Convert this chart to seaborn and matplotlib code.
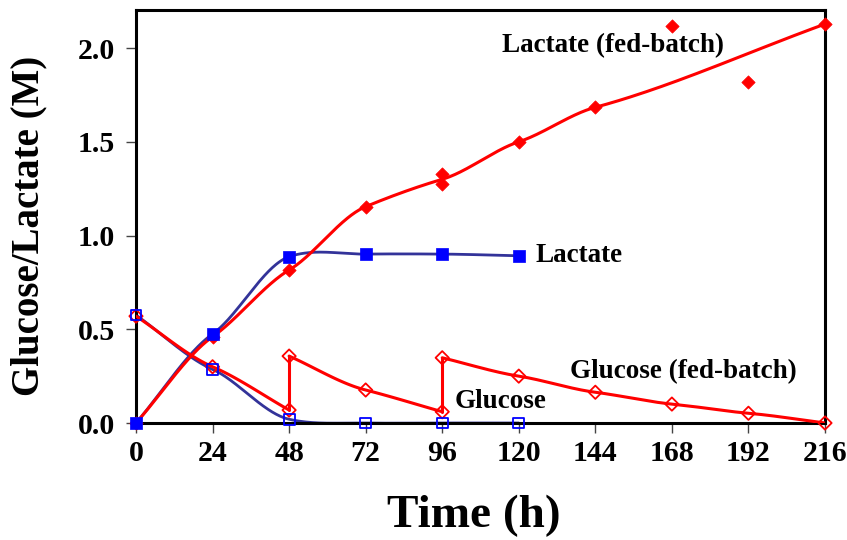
import numpy as np
import pandas as pd
import matplotlib
matplotlib.use("Agg")
import matplotlib.pyplot as plt
import seaborn as sns

# ---- data -------------------------------------------------------------
# batch culture
hours = [0, 24, 48, 72, 96, 120]
lactate_batch = [0.0, 0.475, 0.887, 0.901, 0.901, 0.892]
glucose_batch = [0.576, 0.286, 0.02, 0.0, 0.0, 0.0]

# fed-batch culture (duplicate sample at 96 h)
fed_hours = [0, 24, 48, 72, 96, 96, 120, 144, 168, 192, 216]
lactate_fed = [0.0, 0.46, 0.816, 1.154, 1.326, 1.275, 1.50, 1.684, 2.117, 1.82, 2.128]

# trend through the fed-batch lactate (96 h duplicates averaged, 168/192 h left off)
lactate_fed_trend_hours = [0, 24, 48, 72, 96, 120, 144, 216]
lactate_fed_trend = [0.0, 0.46, 0.816, 1.154, 1.30, 1.50, 1.684, 2.128]

# fed-batch glucose; a repeated hour marks a feed (before / after)
glucose_fed_hours = [0, 24, 48, 48, 72, 96, 96, 120, 144, 168, 192, 216]
glucose_fed = [0.57, 0.30, 0.069, 0.357, 0.176, 0.06, 0.348, 0.25, 0.164, 0.101, 0.052, 0.0]

x_ticks = [0, 24, 48, 72, 96, 120, 144, 168, 192, 216]
y_ticks = [0.0, 0.5, 1.0, 1.5, 2.0]


def smooth(xs, ys, tension=0.7, n=60):
    """Cardinal-spline (Hermite) curve through the points."""
    x = np.asarray(xs, float)
    y = np.asarray(ys, float)
    if len(x) < 3:
        return np.column_stack([x, y])
    h = np.diff(x)
    d = np.diff(y) / h
    m = np.empty_like(y)
    m[0], m[-1] = d[0], d[-1]
    m[1:-1] = tension * (y[2:] - y[:-2]) / (x[2:] - x[:-2])
    t = np.linspace(0, 1, n)
    h00 = 2 * t**3 - 3 * t**2 + 1
    h10 = t**3 - 2 * t**2 + t
    h01 = -2 * t**3 + 3 * t**2
    h11 = t**3 - t**2
    out = []
    for k in range(len(x) - 1):
        xx = x[k] + t * h[k]
        yy = h00 * y[k] + h10 * h[k] * m[k] + h01 * y[k + 1] + h11 * h[k] * m[k + 1]
        seg = np.column_stack([xx, yy])
        out.append(seg if k == 0 else seg[1:])
    return np.vstack(out)


def split_feeds(xs, ys):
    """Split a series at repeated hours into smooth runs plus vertical feed jumps."""
    runs, jumps = [], []
    cur_x, cur_y = [xs[0]], [ys[0]]
    for x, y in zip(xs[1:], ys[1:]):
        if x == cur_x[-1]:
            runs.append((cur_x, cur_y))
            jumps.append(([x, x], [cur_y[-1], y]))
            cur_x, cur_y = [x], [y]
        else:
            cur_x.append(x)
            cur_y.append(y)
    runs.append((cur_x, cur_y))
    return runs, jumps


# ---- figure -----------------------------------------------------------
sns.set_style("ticks")
plt.rcParams["font.family"] = ["Liberation Serif", "DejaVu Serif"]
plt.rcParams["font.weight"] = "bold"
plt.rcParams["text.color"] = "black"

fig = plt.figure(figsize=(8.47, 5.40), dpi=100)
ax = fig.add_axes([136 / 847, 1 - 423 / 540, 689 / 847, 413 / 540])

RED = "#FF0000"
BLUE = "#0000FF"
NAVY = "#333399"


def curve(pts, color, lw, z):
    df = pd.DataFrame({"h": pts[:, 0], "v": pts[:, 1]})
    sns.lineplot(data=df, x="h", y="v", sort=False, estimator=None,
                 color=color, linewidth=lw, ax=ax, zorder=z)


# batch curves
curve(smooth(hours, lactate_batch, tension=0.65), NAVY, 2.0, 2)
curve(smooth(hours, glucose_batch, tension=0.65), NAVY, 2.0, 2)

# fed-batch curves
curve(smooth(lactate_fed_trend_hours, lactate_fed_trend), RED, 2.2, 3)
runs, jumps = split_feeds(glucose_fed_hours, glucose_fed)
for rx, ry in runs:
    curve(smooth(rx, ry), RED, 2.2, 3)
for jx, jy in jumps:
    curve(np.column_stack([jx, jy]), RED, 2.2, 3)

# markers
sns.scatterplot(x=fed_hours, y=lactate_fed, marker="D", s=46, color=RED,
                edgecolor=RED, linewidth=0.5, ax=ax, zorder=4, clip_on=False)
sns.scatterplot(x=glucose_fed_hours, y=glucose_fed, marker="D", s=46, color=RED,
                facecolor="none", edgecolor=RED, linewidth=1.3, ax=ax,
                zorder=4, clip_on=False)
sns.scatterplot(x=hours, y=lactate_batch, marker="s", s=80, color=BLUE,
                edgecolor=BLUE, linewidth=0.5, ax=ax, zorder=5, clip_on=False)
sns.scatterplot(x=hours, y=glucose_batch, marker="s", s=62, color=BLUE,
                facecolor="none", edgecolor=BLUE, linewidth=1.3, ax=ax,
                zorder=5, clip_on=False)

# series labels
lab = dict(fontsize=19.5, fontweight="bold", color="black", va="baseline")
ax.text(149.5, 1.979, "Lactate (fed-batch)", ha="center", **lab)
ax.text(125.1, 0.859, "Lactate", ha="left", **lab)
ax.text(136.1, 0.240, "Glucose (fed-batch)", ha="left", **lab)
ax.text(100.0, 0.080, "Glucose", ha="left", **lab)

# axes
ax.set_xlim(0, 216)
ax.set_ylim(0, 2.203)
ax.set_xticks(x_ticks)
ax.set_yticks(y_ticks)
ax.set_yticklabels([f"{v:.1f}" for v in y_ticks])
ax.set_xlabel("")
ax.set_ylabel("")
for side in ["left", "right", "top", "bottom"]:
    ax.spines[side].set_visible(True)
    ax.spines[side].set_linewidth(2.2)
    ax.spines[side].set_color("black")
ax.tick_params(axis="both", direction="out", length=7, width=1.0,
               color="#444444", labelsize=21.5, labelcolor="black")
ax.tick_params(axis="y", pad=8)
ax.tick_params(axis="x", pad=5)
for lbl in ax.get_xticklabels() + ax.get_yticklabels():
    lbl.set_fontweight("bold")

fig.text(29 / 847, 1 - 226 / 540, "Glucose/Lactate (M)", rotation=90,
         ha="center", va="center", fontsize=28, fontweight="bold", color="black")
fig.text(474 / 847, 1 - 516 / 540, "Time (h)", ha="center", va="center",
         fontsize=34, fontweight="bold", color="black")

fig.savefig("out.png", dpi=100)
